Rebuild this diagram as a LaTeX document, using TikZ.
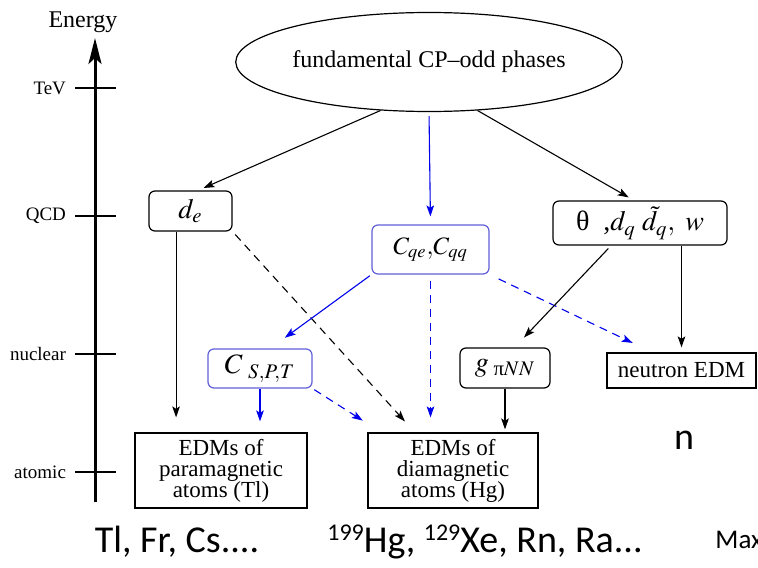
\documentclass[tikz,border=0pt]{standalone}
\usepackage{amsmath}
\usepackage{mathptmx}
\usepackage{fontspec}
\setmainfont{Liberation Serif}
\newfontfamily\slidefont{Carlito}
\usetikzlibrary{arrows.meta, calc, positioning, shapes.geometric}

\definecolor{linkblue}{RGB}{0,0,235}
\definecolor{boxblue}{RGB}{95,95,215}
\newcommand{\isotope}[1]{\raisebox{0.65ex}{\fontsize{12}{12}\selectfont #1}}

\begin{document}
\begin{tikzpicture}[x=0.5pt, y=-0.5pt,
    arr/.style={-{Stealth[length=5.5pt,width=3.8pt,inset=1.2pt]}, line width=0.55pt},
    blue arr/.style={arr, linkblue},
    dashline/.style={dash pattern=on 4pt off 3pt},
    level/.style={line width=0.65pt},
    lvlabel/.style={anchor=east, font=\fontsize{9.5}{10}\selectfont},
    roundbox/.style={draw, rounded corners=3pt, line width=0.6pt, inner sep=0pt, font=\fontsize{14}{16}\selectfont},
    bluebox/.style={roundbox, draw=boxblue},
    atombox/.style={draw, line width=0.6pt, inner sep=0pt, align=center, font=\fontsize{11.5}{10.5}\selectfont},
    slide/.style={font=\slidefont\fontsize{19}{21}\selectfont}]
    \useasboundingbox (0,0) rectangle (758,567);

    % Energy scale
    \draw[line width=1.5pt, -{Stealth[length=13pt,width=6.5pt,inset=3pt]}] (95,502) -- (95,38);
    \node[font=\fontsize{12}{14}\selectfont] (energy) at (83,22) {Energy};
    \foreach \lv/\yy in {TeV/88, QCD/216, nuclear/354, atomic/472} {
        \draw[level] (75,\yy) -- (116,\yy);
        \node[lvlabel] (lv-\lv) at (73,\yy) {\lv};
    }

    % Sources and couplings
    \node[ellipse, draw, line width=0.6pt, minimum width=150pt, minimum height=49.5pt, inner sep=0pt,
          font=\fontsize{12}{14}\selectfont] (phases) at (429,62) {fundamental CP--odd phases};
    \node[roundbox, minimum width=41.5pt, minimum height=20pt] (de) at (190.5,211) {$d_e$};
    \node[bluebox, minimum width=58.5pt, minimum height=24.5pt, font=\fontsize{12.5}{14}\selectfont] (cq) at (430.5,249.5) {$C_{qe}{,}C_{qq}$};
    \node[roundbox, minimum width=87pt, minimum height=22pt] (theta) at (640,223) {θ\ \ ,$d_{q}\,\,\tilde{d}_{q},\ w$};
    \node[bluebox, minimum width=52pt, minimum height=19.5pt] (cspt) at (260,368.5) {$C_{\;\,S,P,T}$};
    \node[roundbox, minimum width=45pt, minimum height=20pt] (gpi) at (505,368) {$g_{\;\text{π}NN}$};

    % Observables
    \node[atombox, minimum width=74.5pt, minimum height=17.5pt] (nedm) at (681.5,370.5) {neutron EDM};
    \node[atombox, minimum width=86pt, minimum height=37.5pt] (para) at (221,470.5) {EDMs of\\paramagnetic\\atoms (Tl)};
    \node[atombox, minimum width=85pt, minimum height=37.5pt] (dia) at (453,470.5) {EDMs of\\diamagnetic\\atoms (Hg)};

    \node[slide, anchor=base] (para-list) at (177,552) {Tl, Fr, Cs....};
    \node[slide, anchor=base] (dia-list) at (485,552) {\isotope{199}Hg, \isotope{129}Xe, Rn, Ra...};
    \node[slide] (n-label) at (684,440) {n};
    \node[anchor=base west, inner sep=0pt, font=\slidefont\fontsize{13.5}{14}\selectfont] (max-label) at (715,548) {Max};

    % from the phases
    \draw[arr, shorten >=3pt] (phases.225) -- (de.70);
    \draw[blue arr, shorten <=2pt, shorten >=4pt] (phases.south) -- (cq.north);
    \draw[arr, shorten >=3pt] (phases.315) -- (theta.105);

    % electron EDM
    \draw[arr, shorten >=7.5pt] (de.235) -- (de.235 |- para.north);
    \draw[arr, dashline, shorten <=2pt, shorten >=7.4pt] (de.south east) -- (dia.135);

    % semileptonic and four-quark
    \draw[blue arr, shorten <=1pt, shorten >=9pt] (cq.south west) -- (cspt.63);
    \draw[blue arr, dashline, shorten <=3pt, shorten >=7.5pt] (cq.south) -- (cq.south |- dia.north);
    \draw[blue arr, dashline, shorten <=5pt, shorten >=11pt] (cq.south east) -- (nedm.148);
    \draw[blue arr, shorten >=5.5pt] (cspt.south) -- (cspt.south |- para.north);
    \draw[blue arr, dashline, shorten <=1pt, shorten >=11pt] (cspt.south east) -- (dia.152);

    % hadronic
    \draw[arr, shorten <=2pt, shorten >=6.8pt] (theta.218) -- (gpi.65);
    \draw[arr, shorten >=2.5pt] (nedm.north |- theta.south) -- (nedm.north);
    \draw[arr, shorten >=1.5pt] (gpi.south) -- (gpi.south |- dia.north);
\end{tikzpicture}
\end{document}
